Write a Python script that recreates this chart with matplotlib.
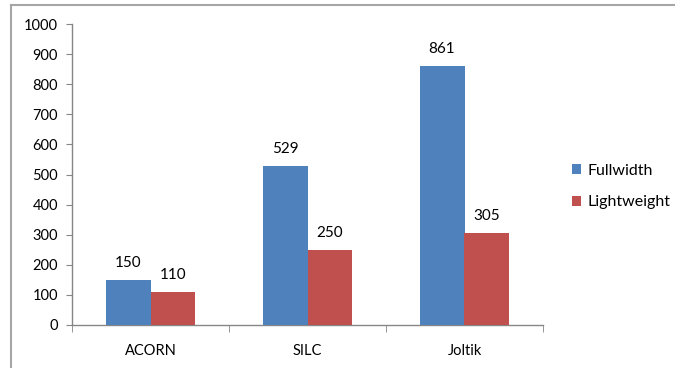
import matplotlib
matplotlib.use("Agg")
import matplotlib.pyplot as plt
from matplotlib.lines import Line2D
import numpy as np

categories = ["ACORN", "SILC", "Joltik"]
fullwidth = [150, 529, 861]
lightweight = [110, 250, 305]
y_ticks = [0, 100, 200, 300, 400, 500, 600, 700, 800, 900, 1000]

plt.rcParams["font.family"] = ["Lato", "DejaVu Sans"]

fig = plt.figure(figsize=(6.75, 3.68), dpi=100)
ax = fig.add_axes([72 / 675, 1 - 325 / 368, 471 / 675, 301 / 368])

x = np.arange(len(categories))
w = 0.286
b1 = ax.bar(x - w / 2, fullwidth, w, color="#4F81BD", label="Fullwidth", zorder=3)
b2 = ax.bar(x + w / 2, lightweight, w, color="#C0504D", label="Lightweight", zorder=3)

for bars, vals in ((b1, fullwidth), (b2, lightweight)):
    for bar, v in zip(bars, vals):
        ax.annotate(str(v), xy=(bar.get_x() + bar.get_width() / 2, v),
                    xytext=(0, 7), textcoords="offset points",
                    ha="center", va="bottom", fontsize=11, color="black")

ax.set_xlim(-0.5, len(categories) - 0.5)
ax.set_ylim(0, 1000)
ax.set_yticks(y_ticks)
ax.tick_params(axis="y", direction="out", length=4, color="#868686",
               labelsize=10.5, pad=6)

# category labels centred, tick marks on the boundaries
ax.set_xticks(x)
ax.set_xticklabels(categories, fontsize=10.5)
ax.tick_params(axis="x", length=0, pad=14)
ax.set_xticks(np.arange(len(categories) + 1) - 0.5, minor=True)
ax.tick_params(axis="x", which="minor", direction="out", length=5, color="#868686")

for side in ("top", "right"):
    ax.spines[side].set_visible(False)
for side in ("left", "bottom"):
    ax.spines[side].set_color("#868686")
    ax.spines[side].set_linewidth(1.0)

ax.legend(loc="center left", bbox_to_anchor=(1.03, 0.46), frameon=False,
          fontsize=11.5, handlelength=0.6, handleheight=0.6, handletextpad=0.4,
          labelspacing=1.1)

# chart area outline
fig.add_artist(Line2D([11 / 675, 1], [1 - 4.5 / 368] * 2, color="#A6A6A6", lw=1.5))
fig.add_artist(Line2D([11 / 675] * 2, [0, 1 - 4.5 / 368], color="#A6A6A6", lw=1.5))

fig.savefig("out.png", dpi=100)
